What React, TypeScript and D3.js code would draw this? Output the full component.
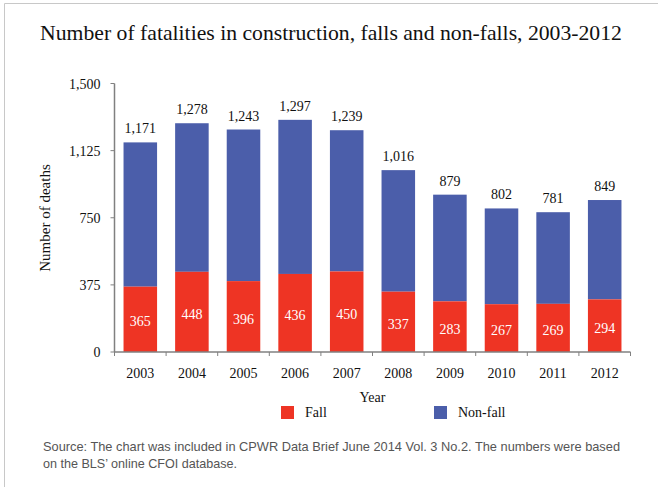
import React from "react";
import * as d3 from "d3";

const years = ["2003","2004","2005","2006","2007","2008","2009","2010","2011","2012"];
const totals = [1171,1278,1243,1297,1239,1016,879,802,781,849];
const falls = [365,448,396,436,450,337,283,267,269,294];
const yTicks = [0,375,750,1125,1500];

const W = 658, H = 487;
const RED = "#EE3424";
const BLUE = "#4B5EAA";
const AXIS = "#808080";

export default function App() {
  const x = d3.scaleBand<string>().domain(years).range([114.5, 630.5]).paddingInner(0.35).paddingOuter(0.175);
  const y = d3.scaleLinear().domain([0, 1500]).range([352, 83.5]);
  const fmt = d3.format(",");
  const step = x.step();
  const x0 = 114.5, x1 = 630.5;
  const serif = "'Liberation Serif', 'Times New Roman', serif";
  const sans = "'Liberation Sans Narrow', 'Liberation Sans', Arial, sans-serif";
  return (
    <svg width={W} height={H} style={{ position: "absolute", left: 0, top: 0 }}>
      <rect x={0} y={0} width={W} height={H} fill="#fff" />
      <line x1={4.5} y1={3.5} x2={W} y2={3.5} stroke="#c8c8c8" />
      <line x1={4.5} y1={3.5} x2={4.5} y2={H} stroke="#c8c8c8" />
      <text x={331} y={40} textAnchor="middle" fontFamily={serif} fontSize={21.7} fill="#111">
        Number of fatalities in construction, falls and non-falls, 2003-2012
      </text>
      {years.map((yr, i) => {
        const bx = x(yr)!;
        const bw = x.bandwidth();
        return (
          <g key={yr}>
            <rect x={bx} y={y(totals[i])} width={bw} height={y(falls[i]) - y(totals[i])} fill={BLUE} />
            <rect x={bx} y={y(falls[i])} width={bw} height={y(0) - y(falls[i])} fill={RED} />
            <text x={bx + bw / 2} y={y(totals[i]) - 9} textAnchor="middle" fontFamily={serif} fontSize={14} fill="#111">{fmt(totals[i])}</text>
            <text x={bx + bw / 2} y={(y(falls[i]) + y(0)) / 2 + 7} textAnchor="middle" fontFamily={serif} fontSize={14} fill="#fff">{fmt(falls[i])}</text>
            <text x={bx + bw / 2} y={y(0) + 26} textAnchor="middle" fontFamily={serif} fontSize={14} fill="#111">{yr}</text>
          </g>
        );
      })}
      <line x1={x0} y1={y(1500)} x2={x0} y2={y(0)} stroke={AXIS} strokeWidth={1.5} />
      <line x1={x0} y1={y(0)} x2={x1} y2={y(0)} stroke={AXIS} strokeWidth={1.5} />
      {yTicks.map(t => (
        <g key={t}>
          <line x1={x0 - 4} x2={x0} y1={y(t)} y2={y(t)} stroke={AXIS} strokeWidth={1} />
          <text x={x0 - 14} y={y(t) + 5} textAnchor="end" fontFamily={serif} fontSize={14} fill="#111">{fmt(t)}</text>
        </g>
      ))}
      {d3.range(years.length + 1).map(i => (
        <line key={i} x1={x0 + i * step} x2={x0 + i * step} y1={y(0)} y2={y(0) + 4} stroke={AXIS} strokeWidth={1} />
      ))}
      <text transform={`translate(50,218) rotate(-90)`} textAnchor="middle" fontFamily={serif} fontSize={15} fill="#111">Number of deaths</text>
      <text x={(x0 + x1) / 2} y={402} textAnchor="middle" fontFamily={serif} fontSize={14} fill="#111">Year</text>
      <rect x={281} y={406} width={13} height={13} fill={RED} />
      <text x={305} y={417} fontFamily={serif} fontSize={14} fill="#111">Fall</text>
      <rect x={434} y={406} width={13} height={13} fill={BLUE} />
      <text x={458} y={417} fontFamily={serif} fontSize={14} fill="#111">Non-fall</text>
      <text x={43} y={451} fontFamily={sans} fontSize={13} fill="#555" textLength={577} lengthAdjust="spacingAndGlyphs">
        Source: The chart was included in CPWR Data Brief June 2014 Vol. 3 No.2. The numbers were based
      </text>
      <text x={43} y={468} fontFamily={sans} fontSize={13} fill="#555" textLength={194} lengthAdjust="spacingAndGlyphs">
        on the BLS’ online CFOI database.
      </text>
    </svg>
  );
}
